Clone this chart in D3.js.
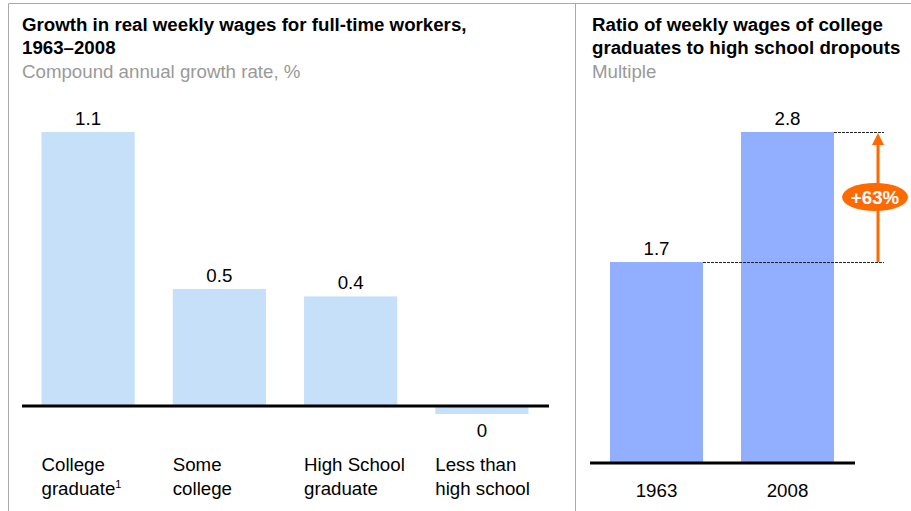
<!DOCTYPE html>
<html>
<head>
<meta charset="utf-8">
<script src="https://cdn.jsdelivr.net/npm/d3@7"></script>
<style>
  body { margin: 0; background: #fff; }
  svg { display: block; font-family: "Liberation Sans", Arial, sans-serif; }
  .title { font-size: 18.7px; font-weight: bold; fill: #000; }
  .subtitle { font-size: 18.7px; fill: #999; }
  .lbl { font-size: 18.7px; fill: #000; }
</style>
</head>
<body>
<div id="chart"></div>
<script>
// left panel: growth in real weekly wages, CAGR %
const groups = ["College graduate", "Some college", "High School graduate", "Less than high school"];
const groupLines = [["College", "graduate"], ["Some", "college"], ["High School", "graduate"], ["Less than", "high school"]];
const growth = [1.1, 0.47, 0.44, -0.03];
const growthLabels = ["1.1", "0.5", "0.4", "0"];

// right panel: ratio college grads / dropouts
const years = ["1963", "2008"];
const ratio = [1.7, 2.8];
const ratioLabels = ["1.7", "2.8"];
const changeLabel = "+63%";

const W = 911, H = 511;
const svg = d3.select("#chart").append("svg")
  .attr("width", W)
  .attr("height", H);

// panel frame
svg.append("path")
  .attr("d", "M8.5," + H + "V3.5H" + W + "M575.5,3.5V" + H)
  .attr("fill", "none")
  .attr("stroke", "#aaa")
  .attr("stroke-width", 1);

// titles
function titleBlock(x, lines, sub) {
  lines.forEach((t, i) => {
    svg.append("text").attr("class", "title")
      .attr("x", x).attr("y", 31 + i * 23).text(t);
  });
  svg.append("text").attr("class", "subtitle")
    .attr("x", x).attr("y", 78).text(sub);
}
titleBlock(22, ["Growth in real weekly wages for full-time workers,", "1963\u20132008"], "Compound annual growth rate, %");
titleBlock(592, ["Ratio of weekly wages of college", "graduates to high school dropouts"], "Multiple");

// ---- left chart ----
const x1 = d3.scaleBand()
  .domain(groups)
  .range([41.5, 528.5])
  .paddingInner(0.29)
  .paddingOuter(0);

const y1 = d3.scaleLinear()
  .domain([0, 1.1])
  .range([406, 132]);

const g1 = svg.append("g");

g1.selectAll("rect")
  .data(growth)
  .join("rect")
  .attr("x", (d, i) => x1(groups[i]))
  .attr("width", x1.bandwidth())
  .attr("y", d => Math.min(y1(d), y1(0)))
  .attr("height", d => Math.max(Math.abs(y1(d) - y1(0)), 8))
  .attr("fill", "#c6e0fa");

g1.append("line")
  .attr("x1", 22).attr("x2", 549)
  .attr("y1", y1(0)).attr("y2", y1(0))
  .attr("stroke", "#000").attr("stroke-width", 3);

g1.selectAll("text.val")
  .data(growth)
  .join("text")
  .attr("class", "lbl val")
  .attr("text-anchor", "middle")
  .attr("x", (d, i) => x1(groups[i]) + x1.bandwidth() / 2)
  .attr("y", d => d >= 0 ? y1(d) - 7 : y1(0) + 31)
  .text((d, i) => growthLabels[i]);

groupLines.forEach((lines, i) => {
  lines.forEach((t, j) => {
    const tx = g1.append("text").attr("class", "lbl")
      .attr("x", x1(groups[i]))
      .attr("y", 471 + j * 24)
      .text(t);
    if (i === 0 && j === 1) {
      tx.append("tspan").attr("font-size", 11).attr("dy", -7).text("1");
    }
  });
});

// ---- right chart ----
const x2 = d3.scaleBand()
  .domain(years)
  .range([610, 834])
  .paddingInner(0.29)
  .paddingOuter(0);

const y2 = d3.scaleLinear()
  .domain([0, 2.8])
  .range([463, 132]);

const g2 = svg.append("g");

g2.selectAll("rect")
  .data(ratio)
  .join("rect")
  .attr("x", (d, i) => x2(years[i]))
  .attr("width", x2.bandwidth())
  .attr("y", d => y2(d))
  .attr("height", d => y2(0) - y2(d))
  .attr("fill", "#91aeff");

g2.append("line")
  .attr("x1", 590).attr("x2", 855)
  .attr("y1", y2(0)).attr("y2", y2(0))
  .attr("stroke", "#000").attr("stroke-width", 3);

g2.selectAll("text.val")
  .data(ratio)
  .join("text")
  .attr("class", "lbl val")
  .attr("text-anchor", "middle")
  .attr("x", (d, i) => x2(years[i]) + x2.bandwidth() / 2)
  .attr("y", d => y2(d) - 7)
  .text((d, i) => ratioLabels[i]);

g2.selectAll("text.yr")
  .data(years)
  .join("text")
  .attr("class", "lbl yr")
  .attr("text-anchor", "middle")
  .attr("x", d => x2(d) + x2.bandwidth() / 2)
  .attr("y", 497)
  .text(d => d);

// dashed reference lines
const arrowX = 878;
g2.append("line")
  .attr("x1", x2("1963") + x2.bandwidth()).attr("x2", 884)
  .attr("y1", y2(ratio[0]) + 0.5).attr("y2", y2(ratio[0]) + 0.5)
  .attr("stroke", "#222").attr("stroke-width", 1).attr("stroke-dasharray", "3,1");
g2.append("line")
  .attr("x1", x2("2008") + x2.bandwidth()).attr("x2", 884)
  .attr("y1", y2(ratio[1]) + 0.5).attr("y2", y2(ratio[1]) + 0.5)
  .attr("stroke", "#222").attr("stroke-width", 1).attr("stroke-dasharray", "3,1");

// arrow
const orange = "#ff6a00";
g2.append("line")
  .attr("x1", arrowX).attr("x2", arrowX)
  .attr("y1", y2(ratio[0])).attr("y2", y2(ratio[1]) + 10)
  .attr("stroke", orange).attr("stroke-width", 3);
g2.append("path")
  .attr("d", `M${arrowX},${y2(ratio[1]) + 1}L${arrowX - 6},${y2(ratio[1]) + 13}L${arrowX + 6},${y2(ratio[1]) + 13}Z`)
  .attr("fill", orange);

const midY = (y2(ratio[0]) + y2(ratio[1])) / 2;
g2.append("ellipse")
  .attr("cx", 875).attr("cy", midY)
  .attr("rx", 33).attr("ry", 14)
  .attr("fill", orange);
g2.append("text")
  .attr("x", 875).attr("y", midY + 7)
  .attr("text-anchor", "middle")
  .attr("font-size", 18.7).attr("font-weight", "bold")
  .attr("fill", "#fff")
  .text(changeLabel);
</script>
</body>
</html>
